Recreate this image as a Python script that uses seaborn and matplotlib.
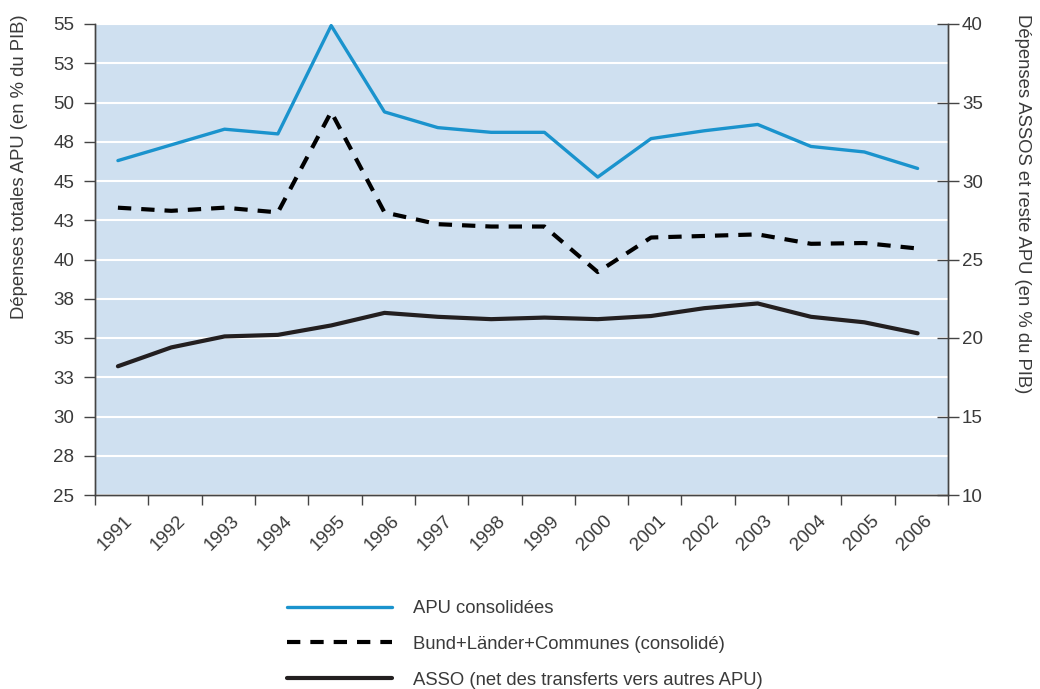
import numpy as np
import pandas as pd
import matplotlib
matplotlib.use('Agg')
import matplotlib.pyplot as plt
import matplotlib.transforms as mtransforms
import seaborn as sns


YEARS = [str(y) for y in range(1991, 2007)]

APU = [46.3, 47.3, 48.3, 48.0, 54.9, 49.4, 48.4, 48.1, 48.1, 45.25,
       47.7, 48.2, 48.6, 47.2, 46.85, 45.8]
BUND = [28.3, 28.1, 28.3, 28.0, 34.4, 28.0, 27.25, 27.1, 27.1, 24.2,
        26.4, 26.5, 26.6, 26.0, 26.05, 25.7]
ASSO = [18.2, 19.4, 20.1, 20.2, 20.8, 21.6, 21.35, 21.2, 21.3, 21.2,
        21.4, 21.9, 22.2, 21.35, 21.0, 20.3]

LEFT_TICKS = list(np.arange(25, 55.1, 2.5))
LEFT_LABELS = ['25', '28', '30', '33', '35', '38', '40', '43', '45', '48', '50', '53', '55']
RIGHT_TICKS = [10, 15, 20, 25, 30, 35, 40]

LABELS = [
    'APU consolidées',
    'Bund+Länder+Communes (consolidé)',
    'ASSO (net des transferts vers autres APU)',
]

BLUE = '#1A93CD'
DARK = '#231F20'
BG = '#CFE0F0'
TEXT = '#3a3a3a'

sns.set_style('white')
plt.rcParams['font.family'] = ['Liberation Sans', 'DejaVu Sans']

df = pd.DataFrame({'x': np.arange(len(YEARS)), 'year': YEARS,
                   'apu': APU, 'bund': BUND, 'asso': ASSO})

fig = plt.figure(figsize=(10.4, 6.89), dpi=100)
ax = fig.add_axes([95 / 1040, 1 - 495 / 689, (948 - 95) / 1040, (495 - 24) / 689])
ax2 = ax.twinx()

ax.set_facecolor(BG)
ax.set_zorder(0)
ax2.set_zorder(1)
ax2.patch.set_visible(False)

sns.lineplot(data=df, x='x', y='apu', ax=ax, color=BLUE, lw=2.4,
             label=LABELS[0], legend=False)
sns.lineplot(data=df, x='x', y='bund', ax=ax2, color='black', lw=3,
             linestyle=(0, (3.2, 2.4)), label=LABELS[1], legend=False)
sns.lineplot(data=df, x='x', y='asso', ax=ax2, color=DARK, lw=3,
             label=LABELS[2], legend=False)

xmin, xmax = -0.43, 15.57
for a in (ax, ax2):
    a.set_xlim(xmin, xmax)
    a.set_xlabel('')
    a.set_ylabel('')
    for s in a.spines.values():
        s.set_color('#444444')
        s.set_linewidth(1.0)
    a.spines['top'].set_visible(False)

ax.set_ylim(25, 55)
ax2.set_ylim(10, 40)

ax.set_yticks(LEFT_TICKS)
ax.set_yticklabels(LEFT_LABELS)
ax.grid(axis='y', color='white', lw=1.5)
ax.set_axisbelow(True)
ax.tick_params(axis='y', which='major', direction='out', length=8, width=1,
               color='#444444', labelsize=13.5, labelcolor=TEXT, pad=7, left=True)

ax2.set_yticks(RIGHT_TICKS)
ax2.tick_params(axis='y', which='major', direction='inout', length=16, width=1,
                color='#444444', labelsize=13.5, labelcolor=TEXT, pad=2, right=True)

ax.set_xticks(df['x'])
ax.set_xticklabels(YEARS)
ax.set_xticks(np.arange(xmin, xmax + 0.01, 1.0), minor=True)
ax.tick_params(axis='x', which='major', length=0, labelsize=13.5, labelcolor=TEXT, pad=17)
ax.tick_params(axis='x', which='minor', direction='out', length=7, width=1,
               color='#444444', bottom=True)
ax2.tick_params(axis='x', which='both', bottom=False, labelbottom=False)
offset = mtransforms.ScaledTranslation(12 / 100, 0, fig.dpi_scale_trans)
for lab in ax.get_xticklabels():
    lab.set_rotation(45)
    lab.set_ha('right')
    lab.set_va('center')
    lab.set_rotation_mode('anchor')
    lab.set_transform(lab.get_transform() + offset)

fig.text(20 / 1040, 1 - 14 / 689, 'Dépenses totales APU (en % du PIB)',
         rotation=90, ha='center', va='top', fontsize=13.3, color=TEXT)
fig.text(1022 / 1040, 1 - 14 / 689, 'Dépenses ASSOS et reste APU (en % du PIB)',
         rotation=270, ha='center', va='top', fontsize=13.3, color=TEXT)

handles = ax.get_lines()[:1] + ax2.get_lines()[:2]
fig.legend(handles, LABELS, loc='upper left',
           bbox_to_anchor=(287 / 1040, 1 - 600 / 689), frameon=False,
           fontsize=13.3, handlelength=5.7, handletextpad=1.1, labelspacing=1.02,
           borderpad=0, borderaxespad=0, labelcolor=TEXT)

fig.savefig('out.png', dpi=100)
